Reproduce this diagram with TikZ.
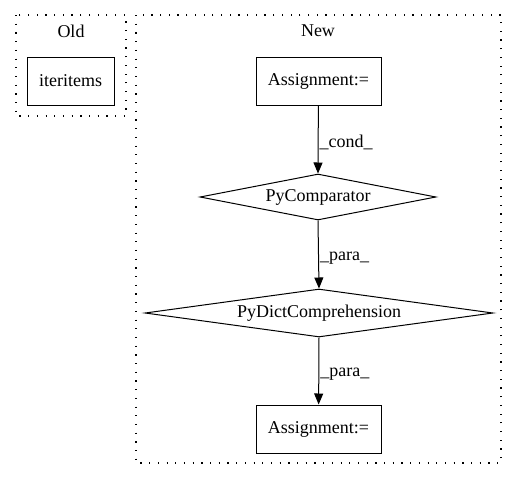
\documentclass[tikz,border=0pt]{standalone}
\usepackage{fontspec}
\setmainfont{Liberation Serif}
\usetikzlibrary{shapes.geometric,arrows.meta}
\begin{document}
\begin{tikzpicture}[x=1pt,y=-1pt,
  every node/.style={font=\fontsize{18}{20}\selectfont, inner sep=0pt},
  cluster/.style={draw, line width=1.2pt, dash pattern=on 1.2pt off 7.5pt},
  box/.style={draw, line width=1pt, rectangle, minimum width=#1, minimum height=48},
  dia/.style={draw, line width=1pt, diamond, aspect=#1, inner sep=0pt},
  edge/.style={draw, line width=1pt, -{Triangle[length=11pt,width=9pt]}},
  elab/.style={anchor=west, inner sep=1pt, pos=0.55}
]
\useasboundingbox (0,0) rectangle (517,480);
\draw[cluster] (16,15) rectangle (126,116);
\draw[cluster] (136,15) rectangle (501,463);
\node (oldlab) at (71,31) {Old};
\node (newlab) at (318,31) {New};
\node[box=87] (iter) at (70.5,81) {iteritems};
\node[box=125] (a1) at (318.5,81) {Assignment:=};
\node[dia=5.13, minimum width=236, minimum height=46] (pc) at (318,197) {PyComparator};
\node[dia=7.25, minimum width=348, minimum height=48] (pdc) at (319,313) {PyDictComprehension};
\node[box=125] (a2) at (318.5,429) {Assignment:=};
\draw[edge] (a1) -- node[elab] {\_cond\_} (pc.north);
\draw[edge] (pc.south) -- node[elab] {\_para\_} (pdc.north);
\draw[edge] (pdc.south) -- node[elab] {\_para\_} (a2);
\end{tikzpicture}
\end{document}
